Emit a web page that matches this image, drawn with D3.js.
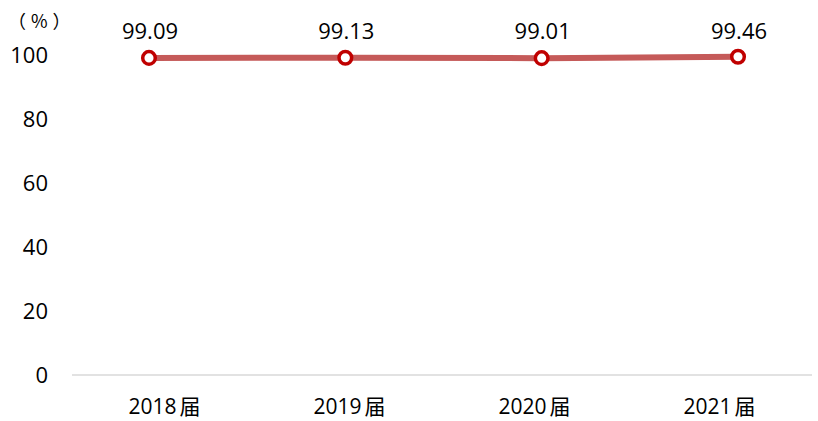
<!DOCTYPE html>
<html><head><meta charset="utf-8">
<script src="https://cdn.jsdelivr.net/npm/d3@7/dist/d3.min.js"></script>
<style>body{margin:0;background:#fff}svg{display:block}text{font-family:"Open Sans","Noto Sans CJK SC",sans-serif;fill:#000}
.cjk{font-family:"Noto Sans CJK JP","Noto Sans CJK SC",sans-serif}</style>
</head><body><svg id="c" width="818" height="421"></svg>
<script>
const categories = ["2018届","2019届","2020届","2021届"];
const values = [99.09, 99.13, 99.01, 99.46];
const yTicks = [0,20,40,60,80,100];
const unitLabel = "（%）";

const svg = d3.select("#c");
const y = d3.scaleLinear().domain([0,100]).range([375,55]);
const xb = d3.scaleBand().domain(categories).range([72,812]);
const xp = d3.scalePoint().domain(categories).range([149,738]);

svg.append("line").attr("x1",72).attr("x2",812).attr("y1",y(0)).attr("y2",y(0))
  .attr("stroke","#d9d9d9").attr("stroke-width",1.5);

svg.selectAll(".yt").data(yTicks).join("text").attr("class","yt")
  .attr("x",48).attr("y",d=>y(d)).attr("dy","0.36em").attr("text-anchor","end")
  .attr("font-size",22).text(d=>d);

svg.append("text").attr("class","cjk").attr("x",8).attr("y",28).attr("font-size",18)
  .selectAll("tspan").data(Array.from(unitLabel)).join("tspan")
  .attr("dx",(d,i)=>i===0?0:5).text(d=>d);

const xt = svg.selectAll(".xt").data(categories).join("text").attr("class","xt")
  .attr("x",d=>xb(d)+xb.bandwidth()/2).attr("y",414).attr("text-anchor","middle")
  .attr("font-size",21);
xt.append("tspan").text(d=>d.slice(0,4));
xt.append("tspan").attr("class","cjk").attr("dx",3).text(d=>d.slice(4));

const line = d3.line().x((d,i)=>xp(categories[i])).y(d=>y(d));
svg.append("path").datum(values).attr("d",line).attr("fill","none")
  .attr("stroke","#c55a59").attr("stroke-width",6);

svg.selectAll(".pt").data(values).join("circle").attr("class","pt")
  .attr("cx",(d,i)=>xp(categories[i])).attr("cy",d=>y(d)).attr("r",6.3)
  .attr("fill","#fff").attr("stroke","#c00000").attr("stroke-width",3.5);

svg.selectAll(".lb").data(values).join("text").attr("class","lb")
  .attr("x",(d,i)=>xp(categories[i])+1).attr("y",39).attr("text-anchor","middle")
  .attr("font-size",22).text(d=>d.toFixed(2));
</script></body></html>
